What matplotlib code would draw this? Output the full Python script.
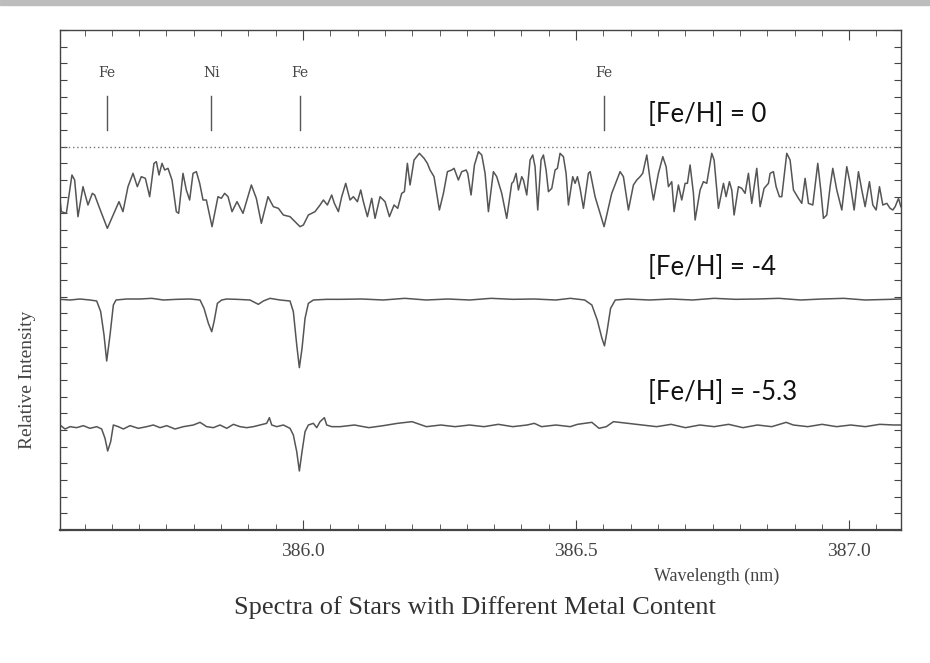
import matplotlib
matplotlib.use('Agg')
import matplotlib.pyplot as plt
from matplotlib.patches import Rectangle
from matplotlib.ticker import MultipleLocator, FixedLocator

plt.rcParams['font.family'] = 'Liberation Serif'

# ---- data ----
# [Fe/H] = 0 (solar-like), wavelength (nm) and relative intensity
w_solar = [385.5544, 385.5574, 385.5666, 385.5769, 385.5818, 385.5879, 385.5971, 385.6062,
           385.6142, 385.6185, 385.6276, 385.6417, 385.6551, 385.6630, 385.6703, 385.6795,
           385.6887, 385.6966, 385.7039, 385.7113, 385.7192, 385.7271, 385.7314, 385.7363,
           385.7418, 385.7467, 385.7528, 385.7601, 385.7680, 385.7723, 385.7802, 385.7863,
           385.7924, 385.7986, 385.8047, 385.8108, 385.8169, 385.8230, 385.8334, 385.8443,
           385.8504, 385.8565, 385.8627, 385.8700, 385.8791, 385.8901, 385.9054, 385.9145,
           385.9237, 385.9359,
           385.9457, 385.9549, 385.9640, 385.9762, 385.9854, 385.9945, 386.0007, 386.0098,
           386.0220, 386.0312, 386.0373, 386.0446, 386.0525, 386.0574, 386.0648, 386.0709,
           386.0782, 386.0861, 386.0922, 386.0996, 386.1057, 386.1105, 386.1179, 386.1258,
           386.1319, 386.1411, 386.1502, 386.1582, 386.1667, 386.1734, 386.1807, 386.1856,
           386.1911, 386.1960, 386.2033, 386.2131, 386.2217, 386.2277, 386.2326, 386.2399,
           386.2497, 386.2571, 386.2644, 386.2723, 386.2766, 386.2845, 386.2906, 386.2986,
           386.3016, 386.3077, 386.3139, 386.3212, 386.3273, 386.3334,
           386.3395, 386.3486, 386.3547, 386.3639, 386.3730, 386.3822, 386.3853, 386.3901,
           386.3944, 386.4005, 386.4036, 386.4097, 386.4158, 386.4207, 386.4249, 386.4298,
           386.4359, 386.4402, 386.4451, 386.4494, 386.4555, 386.4616, 386.4658, 386.4707,
           386.4768, 386.4817, 386.4860, 386.4939, 386.4982, 386.5025, 386.5073, 386.5135,
           386.5226, 386.5257, 386.5348, 386.5513, 386.5653, 386.5806, 386.5867, 386.5959,
           386.6050, 386.6111, 386.6172, 386.6221, 386.6295, 386.6356, 386.6417, 386.6508,
           386.6588, 386.6649, 386.6691, 386.6752, 386.6795, 386.6874, 386.6935, 386.6997,
           386.7039, 386.7088, 386.7149, 386.7180,
           386.7271, 386.7332, 386.7393, 386.7485, 386.7528, 386.7607, 386.7699, 386.7747,
           386.7808, 386.7851, 386.7894, 386.7973, 386.8034, 386.8095, 386.8156, 386.8217,
           386.8309, 386.8370, 386.8443, 386.8523, 386.8553, 386.8614, 386.8663, 386.8724,
           386.8767, 386.8858, 386.8919, 386.8981, 386.9072, 386.9133, 386.9194, 386.9255,
           386.9335, 386.9426, 386.9481, 386.9530, 386.9591, 386.9652, 386.9701, 386.9774,
           386.9866, 386.9957, 387.0018, 387.0092, 387.0171, 387.0232, 387.0293, 387.0372,
           387.0434, 387.0495, 387.0556, 387.0617, 387.0690, 387.0751, 387.0800, 387.0843,
           387.0904, 387.0947]
f_solar = [20.0, 19.1, 19.0, 21.3, 21.0, 18.8, 20.6, 19.5,
           20.2, 20.1, 19.3, 18.1, 19.1, 19.7, 19.1, 20.6,
           21.4, 20.6, 21.2, 21.1, 20.0, 22.0, 22.1, 21.3,
           22.0, 21.6, 21.7, 21.0, 19.1, 19.0, 21.4, 20.4,
           19.8, 21.4, 21.5, 20.8, 19.8, 19.8, 18.2, 20.0,
           19.9, 20.2, 20.0, 19.1, 19.7, 19.0, 20.7, 19.9,
           18.4, 20.0,
           19.4, 19.3, 18.9, 18.8, 18.5, 18.2, 18.3, 18.9,
           19.1, 19.5, 19.8, 19.5, 20.1, 19.6, 19.1, 20.0,
           20.8, 19.8, 20.0, 19.7, 20.4, 19.7, 18.8, 19.9,
           18.7, 20.0, 19.7, 18.8, 19.5, 19.3, 20.2, 20.3,
           22.0, 20.7, 22.2, 22.6, 22.3, 22.0, 21.6, 21.2,
           19.2, 20.2, 21.5, 21.6, 21.7, 21.0, 21.5, 21.6,
           21.4, 20.1, 21.9, 22.7, 22.5, 21.4,
           19.1, 21.5, 21.2, 20.2, 18.7, 20.8, 20.9, 21.4,
           20.4, 21.2, 21.0, 20.1, 22.2, 22.5, 21.8, 19.2,
           22.2, 22.5, 21.6, 20.3, 20.5, 21.6, 21.7, 22.6,
           22.4, 21.4, 19.5, 21.2, 20.8, 21.2, 20.5, 19.3,
           21.4, 21.5, 20.0, 18.2, 20.2, 21.5, 21.2, 19.2,
           20.7, 21.0, 21.2, 21.4, 22.5, 21.0, 19.8, 21.4,
           22.4, 21.8, 20.6, 20.9, 19.1, 20.7, 19.8, 20.8,
           20.8, 21.9, 20.2, 18.6,
           20.4, 20.9, 20.8, 22.6, 22.2, 19.3, 20.8, 20.0,
           20.9, 20.4, 18.9, 20.6, 20.5, 20.2, 21.4, 19.6,
           21.7, 19.4, 20.5, 20.8, 21.4, 21.5, 20.6, 20.0,
           20.0, 22.6, 22.2, 20.4, 19.9, 19.6, 21.1, 19.6,
           19.5, 22.0, 20.4, 18.7, 18.9, 20.6, 21.7, 20.4,
           19.2, 21.8, 20.8, 19.2, 21.5, 20.4, 19.4, 20.9,
           19.5, 19.2, 20.6, 19.5, 19.6, 19.3, 19.2, 19.4,
           19.9, 19.4]

# [Fe/H] = -4
w_m4 = [385.5550, 385.5733, 385.5916, 385.6099, 385.6222, 385.6295, 385.6356, 385.6405,
        385.6466, 385.6527, 385.6576, 385.6771, 385.7015, 385.7229, 385.7443, 385.7687,
        385.7931, 385.8114, 385.8187, 385.8267, 385.8328, 385.8371, 385.8432, 385.8511,
        385.8603, 385.8786, 385.9030, 385.9182, 385.9274, 385.9396, 385.9579, 385.9762,
        385.9823, 385.9885, 385.9933, 385.9982, 386.0037, 386.0098, 386.0190, 386.0434,
        386.0678, 386.1073, 386.1469, 386.1864, 386.2259, 386.2654, 386.3050, 386.3445,
        386.3840, 386.4235, 386.4631, 386.4894, 386.5158, 386.5289, 386.5388, 386.5474,
        386.5520, 386.5566, 386.5632, 386.5718, 386.5948, 386.6343, 386.6739, 386.7134,
        386.7529, 386.7924, 386.8320, 386.8715, 386.9110, 386.9505, 386.9900, 387.0296,
        387.0757, 387.0955]
f_m4 = [13.84, 13.80, 13.86, 13.80, 13.74, 13.10, 11.70, 10.14,
        11.70, 13.50, 13.80, 13.86, 13.86, 13.90, 13.80, 13.84,
        13.86, 13.80, 13.30, 12.40, 11.90, 12.50, 13.60, 13.80,
        13.86, 13.84, 13.80, 13.54, 13.74, 13.90, 13.80, 13.74,
        13.10, 11.10, 9.74, 10.90, 12.70, 13.60, 13.80, 13.84,
        13.84, 13.86, 13.80, 13.90, 13.80, 13.86, 13.80, 13.90,
        13.84, 13.86, 13.80, 13.90, 13.80, 13.50, 12.60, 11.50,
        11.05, 11.90, 13.30, 13.80, 13.86, 13.80, 13.86, 13.80,
        13.90, 13.84, 13.86, 13.90, 13.80, 13.86, 13.90, 13.80,
        13.84, 13.86]

# [Fe/H] = -5.3
w_m53 = [385.5550, 385.5642, 385.5733, 385.5855, 385.5977, 385.6099, 385.6222, 385.6313,
         385.6374, 385.6423, 385.6478, 385.6527, 385.6618, 385.6710, 385.6832, 385.6985,
         385.7137, 385.7259, 385.7382, 385.7504, 385.7656, 385.7809, 385.7992, 385.8114,
         385.8236, 385.8358, 385.8480, 385.8603, 385.8725, 385.8847, 385.8969, 385.9091,
         385.9213, 385.9335, 385.9384, 385.9427, 385.9518, 385.9640, 385.9762, 385.9823,
         385.9885, 385.9933, 385.9982, 386.0037, 386.0098, 386.0190, 386.0251, 386.0312,
         386.0391, 386.0434, 386.0526, 386.0678, 386.0941, 386.1205, 386.1469, 386.1732,
         386.1996, 386.2259, 386.2523, 386.2786, 386.3050, 386.3313, 386.3577, 386.3840,
         386.4104, 386.4235, 386.4367, 386.4631, 386.4894, 386.5026, 386.5289, 386.5421,
         386.5553, 386.5685, 386.5948, 386.6211, 386.6475, 386.6739, 386.7002, 386.7266,
         386.7529, 386.7793, 386.8056, 386.8320, 386.8583, 386.8847, 386.8978, 386.9242,
         386.9505, 386.9769, 387.0032, 387.0296, 387.0559, 387.0823, 387.0950]
f_m53 = [6.30, 6.06, 6.20, 6.14, 6.26, 6.10, 6.20, 6.06,
         5.50, 4.74, 5.30, 6.30, 6.20, 6.06, 6.26, 6.10,
         6.20, 6.30, 6.14, 6.26, 6.06, 6.20, 6.30, 6.46,
         6.20, 6.14, 6.30, 6.10, 6.34, 6.20, 6.14, 6.20,
         6.30, 6.40, 6.74, 6.30, 6.20, 6.30, 6.10, 5.70,
         4.70, 3.54, 4.70, 5.90, 6.30, 6.40, 6.14, 6.50,
         6.74, 6.30, 6.20, 6.20, 6.30, 6.14, 6.26, 6.40,
         6.50, 6.20, 6.30, 6.20, 6.30, 6.20, 6.34, 6.20,
         6.30, 6.40, 6.20, 6.30, 6.20, 6.34, 6.46, 6.10,
         6.20, 6.50, 6.40, 6.30, 6.20, 6.34, 6.14, 6.30,
         6.20, 6.34, 6.14, 6.30, 6.20, 6.46, 6.30, 6.20,
         6.34, 6.20, 6.30, 6.20, 6.34, 6.30, 6.30]

# line identifications
line_names = ['Fe', 'Ni', 'Fe', 'Fe']
line_waves = [385.641, 385.832, 385.995, 386.551]

continuum = 22.98
labels = ['[Fe/H] = 0', '[Fe/H] = -4', '[Fe/H] = -5.3']
label_y = [24.9, 15.72, 8.22]

# ---- figure ----
fig = plt.figure(figsize=(9.3, 6.63), dpi=100)
fig.patches.append(Rectangle((0, 0.993), 1, 0.007, transform=fig.transFigure,
                             color='#bdbdbd', zorder=0))
ax = fig.add_axes([60 / 930, 133 / 663, 841 / 930, 500 / 663])

col = '#555555'
for w, f in [(w_solar, f_solar), (w_m4, f_m4), (w_m53, f_m53)]:
    ax.plot(w, f, color=col, lw=1.1, solid_joinstyle='round')
ax.axhline(continuum, color='#777777', lw=1.0, ls=(0, (1, 2)))

for name, w in zip(line_names, line_waves):
    ax.plot([w, w], [24.0, 26.05], color='#555555', lw=1.0)
    ax.text(w, 27.4, name, ha='center', va='center', fontsize=10, color='#444444',
            family='DejaVu Serif')

for t, y in zip(labels, label_y):
    ax.text(386.632, y, t, ha='left', va='center', fontsize=18.5, family='Lato',
            color='#111111')

ax.set_xlim(385.555, 387.095)
ax.set_ylim(0, 30)
ax.xaxis.set_major_locator(FixedLocator([386.0, 386.5, 387.0]))
ax.set_xticklabels(['386.0', '386.5', '387.0'])
ax.xaxis.set_minor_locator(MultipleLocator(0.05))
ax.yaxis.set_major_locator(MultipleLocator(1))
ax.set_yticklabels([])
ax.tick_params(axis='x', which='major', direction='in', length=7, top=True,
               labelsize=14, colors='#444444', pad=9)
ax.tick_params(axis='x', which='minor', direction='in', length=4, top=True, color='#444444')
ax.tick_params(axis='y', which='major', direction='in', length=5, right=True, color='#444444')
for s in ax.spines.values():
    s.set_color('#444444')
    s.set_linewidth(1.0)
ax.spines['bottom'].set_linewidth(1.6)

fig.text(28 / 930, 1 - 380 / 663, 'Relative Intensity', rotation=90, ha='center',
         va='center', fontsize=14, color='#444444')
fig.text(717 / 930, 1 - 576 / 663, 'Wavelength (nm)', ha='center', va='center',
         fontsize=13, color='#444444')
fig.text(475 / 930, 1 - 608 / 663, 'Spectra of Stars with Different Metal Content',
         ha='center', va='center', fontsize=19, color='#333333')

fig.savefig('out.png', dpi=100)
